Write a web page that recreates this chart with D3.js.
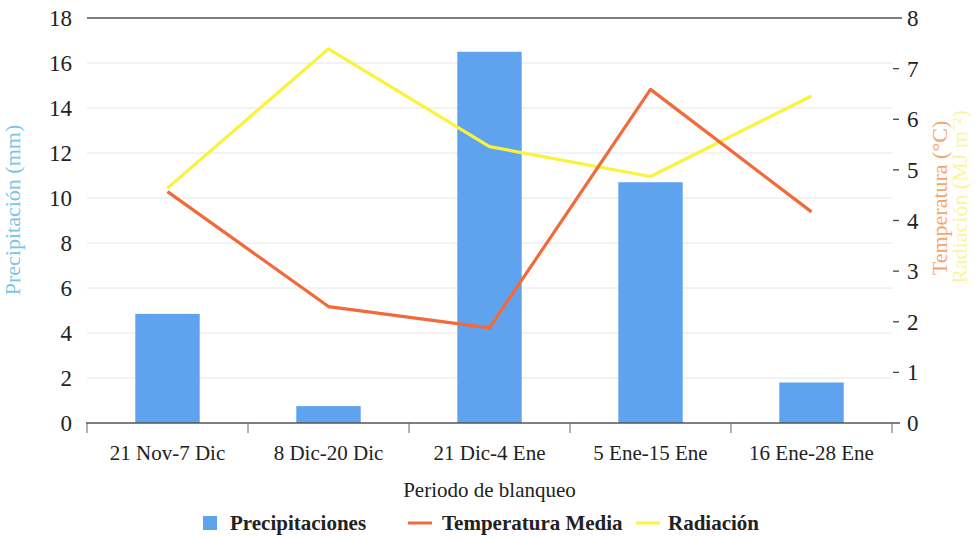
<!DOCTYPE html>
<html>
<head>
<meta charset="utf-8">
<script src="https://cdn.jsdelivr.net/npm/d3@7"></script>
<style>
  html, body { margin: 0; padding: 0; background: #fff; }
  svg { display: block; }
</style>
</head>
<body>
<svg id="chart" width="975" height="538"></svg>
<script>
// Periods of the blanching cycle
const periods = ["21 Nov-7 Dic", "8 Dic-20 Dic", "21 Dic-4 Ene", "5 Ene-15 Ene", "16 Ene-28 Ene"];
// Precipitation per period (mm)
const precipitation = [4.85, 0.75, 16.5, 10.7, 1.8];
// Mean temperature (°C)
const temperature = [4.57, 2.3, 1.88, 6.59, 4.17];
// Radiation (MJ m-2)
const radiation = [4.64, 7.39, 5.46, 4.87, 6.46];
// Axis tick values
const leftTicks = [0, 2, 4, 6, 8, 10, 12, 14, 16, 18];
const rightTicks = [0, 1, 2, 3, 4, 5, 6, 7, 8];

const serif = "Liberation Serif";
const svg = d3.select("#chart");
const plotLeft = 87, plotRight = 892, plotTop = 18, plotBottom = 423;

const x = d3.scaleBand().domain(periods).range([plotLeft, plotRight]).paddingInner(0.6).paddingOuter(0.3);
const xEdges = d3.scalePoint().domain(d3.range(periods.length + 1)).range([plotLeft, plotRight]);
const yL = d3.scaleLinear().domain([0, 18]).range([plotBottom, plotTop]);
const yR = d3.scaleLinear().domain([0, 8]).range([plotBottom, plotTop]);

// Horizontal gridlines
svg.append("g").selectAll("line").data(leftTicks.filter(d => d > 0 && d < 18)).join("line")
  .attr("x1", plotLeft).attr("x2", plotRight)
  .attr("y1", d => yL(d)).attr("y2", d => yL(d))
  .attr("stroke", "#e6e6e6").attr("stroke-width", 1);

// Top border line
svg.append("line").attr("x1", plotLeft).attr("x2", 902).attr("y1", yL(18)).attr("y2", yL(18))
  .attr("stroke", "#555").attr("stroke-width", 1.5);

// Bars
const barColor = "#5fa2ee";
svg.append("g").selectAll("rect").data(periods).join("rect")
  .attr("x", d => x(d)).attr("width", x.bandwidth())
  .attr("y", (d, i) => yL(precipitation[i]))
  .attr("height", (d, i) => yL(0) - yL(precipitation[i]))
  .attr("fill", barColor);

// Bottom axis line and category ticks
svg.append("line").attr("x1", plotLeft - 1).attr("x2", 900).attr("y1", plotBottom).attr("y2", plotBottom)
  .attr("stroke", "#555").attr("stroke-width", 1.5);
svg.append("g").selectAll("line").data(xEdges.domain()).join("line")
  .attr("x1", d => xEdges(d)).attr("x2", d => xEdges(d))
  .attr("y1", plotBottom).attr("y2", plotBottom + 10)
  .attr("stroke", "#666").attr("stroke-width", 1);

// Category labels
svg.append("g").selectAll("text").data(periods).join("text")
  .attr("font-family", serif)
  .attr("x", d => x(d) + x.bandwidth() / 2).attr("y", 460)
  .attr("text-anchor", "middle").attr("font-size", 21).attr("fill", "#222")
  .text(d => d);

// Left tick labels
svg.append("g").selectAll("text").data(leftTicks).join("text")
  .attr("font-family", serif)
  .attr("x", 72).attr("y", d => yL(d)).attr("dy", "0.35em")
  .attr("text-anchor", "end").attr("font-size", 23).attr("fill", "#222")
  .text(d => d);

// Right ticks and labels
svg.append("g").selectAll("line").data(rightTicks.filter(d => d > 0 && d < 8)).join("line")
  .attr("x1", 893).attr("x2", 899).attr("y1", d => yR(d)).attr("y2", d => yR(d))
  .attr("stroke", "#444").attr("stroke-width", 1.3);
svg.append("g").selectAll("text").data(rightTicks).join("text")
  .attr("font-family", serif)
  .attr("x", 907).attr("y", d => yR(d)).attr("dy", "0.35em")
  .attr("text-anchor", "start").attr("font-size", 23).attr("fill", "#222")
  .text(d => d);

// Lines
const cx = d => x(d) + x.bandwidth() / 2;
const tempColor = "#f26a3a", radColor = "#fbf23c";
svg.append("path").datum(periods)
  .attr("d", d3.line().x(cx).y((d, i) => yR(radiation[i])))
  .attr("fill", "none").attr("stroke", radColor).attr("stroke-width", 3.2).attr("stroke-linejoin", "round");
svg.append("path").datum(periods)
  .attr("d", d3.line().x(cx).y((d, i) => yR(temperature[i])))
  .attr("fill", "none").attr("stroke", tempColor).attr("stroke-width", 3.2).attr("stroke-linejoin", "round");

// Axis titles
svg.append("text").attr("font-family", serif).attr("transform", "translate(20,210) rotate(-90)")
  .attr("text-anchor", "middle").attr("font-size", 22).attr("fill", "#7cc3e8")
  .text("Precipitación (mm)");
svg.append("text").attr("font-family", serif).attr("transform", "translate(947,198) rotate(-90)")
  .attr("text-anchor", "middle").attr("font-size", 22).attr("fill", "#f5a56c")
  .text("Temperatura (°C)");
svg.append("text").attr("font-family", serif).attr("transform", "translate(967,197) rotate(-90)")
  .attr("text-anchor", "middle").attr("font-size", 22).attr("fill", "#fbf59a")
  .text("Radiación (MJ m⁻²)");
svg.append("text").attr("font-family", serif).attr("x", (plotLeft + plotRight) / 2).attr("y", 497)
  .attr("text-anchor", "middle").attr("font-size", 21).attr("fill", "#222")
  .text("Periodo de blanqueo");

// Legend
const legend = svg.append("g");
legend.append("rect").attr("x", 203).attr("y", 516).attr("width", 14).attr("height", 14).attr("fill", barColor);
legend.append("line").attr("x1", 408).attr("x2", 432).attr("y1", 523).attr("y2", 523).attr("stroke", tempColor).attr("stroke-width", 3);
legend.append("line").attr("x1", 636).attr("x2", 660).attr("y1", 523).attr("y2", 523).attr("stroke", radColor).attr("stroke-width", 3);
const legendItems = [
  { x: 230, label: "Precipitaciones" },
  { x: 442, label: "Temperatura Media" },
  { x: 668, label: "Radiación" }
];
legend.selectAll("text").data(legendItems).join("text")
  .attr("font-family", serif).attr("font-size", 21).attr("font-weight", "bold").attr("fill", "#222")
  .attr("x", d => d.x).attr("y", 530)
  .text(d => d.label);
</script>
</body>
</html>
